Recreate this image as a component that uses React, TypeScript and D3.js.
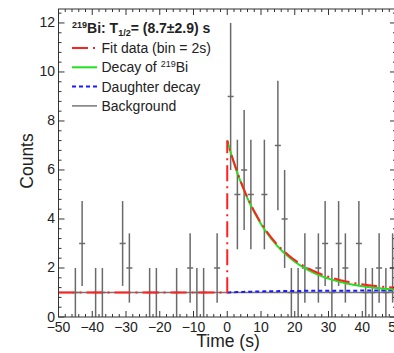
import React from "react";
import * as d3 from "d3";

// Histogram: bins of 2 s from -50 to 50 s
const binLow = -50;
const binWidth = 2;
const counts = [
  0, 0, 1, 3, 0, 1, 1, 0, 0, 3, 2, 0, 0, 1, 1, 0, 0, 1, 0, 2, 1, 1, 0, 2, 0,
  9, 5, 6, 5, 0, 5, 0, 7, 4, 1, 1, 2, 0, 2, 3, 1, 3, 2, 0, 3, 1, 1, 2, 1, 2,
];

// Fit parameters
const background = 1.0;
const amplitude = 6.2;
const halfLife = 8.7;
const daughterLevel = 0.08;

const xTickValues = [-50, -40, -30, -20, -10, 0, 10, 20, 30, 40, 50];
const yTickValues = [0, 2, 4, 6, 8, 10, 12];

const W = 394;
const H = 353;
const FONT = "'Liberation Sans', Arial, Helvetica, sans-serif";

export default function App() {
  const x = d3.scaleLinear().domain([-50, 50]).range([58.5, 396]);
  const y = d3.scaleLinear().domain([0, 12.57]).range([317, 9]);
  const lambda = Math.LN2 / halfLife;

  const decay = (t: number) => amplitude * Math.exp(-lambda * t);
  const daughter = (t: number) => daughterLevel * (1 - Math.exp(-lambda * t));

  const tPos = d3.range(0, 50.001, 0.25);
  const line = d3
    .line<[number, number]>()
    .x((d) => x(d[0]))
    .y((d) => y(d[1]));

  const greenPath = line(tPos.map((t) => [t, background + decay(t)]))!;
  const bluePath = line(tPos.map((t) => [t, background + daughter(t)]))!;
  const redPts: [number, number][] = [
    [-50, background],
    [0, background],
    ...tPos.map((t) => [t, background + decay(t) + daughter(t)] as [number, number]),
  ];
  const redPath = line(redPts)!;
  const bgPath = line([
    [-50, background],
    [50, background],
  ])!;

  const [x0, x1] = x.range();
  const [y0, y1] = y.range();
  const xMinor = d3.range(-50, 50.001, 2);
  const yMinor = d3.range(0, 12.57, 0.4);

  const bins = counts.map((c, i) => ({ t: binLow + binWidth * i + binWidth / 2, c }));

  const axisColor = "#333";
  const errColor = "#6a6a6a";
  const redColor = "#ff2020";
  const greenColor = "#22e022";
  const blueColor = "#1a1aff";

  const legendY = [48, 67.3, 86.6, 105.9];

  return (
    <svg
      width={W}
      height={H}
      style={{ position: "absolute", left: 0, top: 0, background: "#fff" }}
      fontFamily={FONT}
    >
      <rect x={0} y={0} width={W} height={H} fill="#fff" />

      {/* background line */}
      <path d={bgPath} stroke="#777" strokeWidth={1.3} fill="none" />

      {/* error bars */}
      {bins
        .filter((b) => b.c > 0)
        .map((b, i) => {
          const e = Math.sqrt(b.c);
          return (
            <g key={i}>
              <line
                x1={x(b.t)}
                x2={x(b.t)}
                y1={y(Math.max(0, b.c - e))}
                y2={y(b.c + e)}
                stroke={errColor}
                strokeWidth={1.5}
              />
              <line
                x1={x(b.t) - 3}
                x2={x(b.t) + 3}
                y1={y(b.c)}
                y2={y(b.c)}
                stroke={errColor}
                strokeWidth={1.5}
              />
            </g>
          );
        })}

      {/* fit curves */}
      <path d={bluePath} stroke={blueColor} strokeWidth={2} strokeDasharray="4,3" fill="none" />
      <path d={greenPath} stroke={greenColor} strokeWidth={2} fill="none" />
      <path d={redPath} stroke={redColor} strokeWidth={2} strokeDasharray="16,5,2,5" fill="none" />

      {/* frame */}
      <rect x={x0} y={y1} width={x1 - x0} height={y0 - y1} fill="none" stroke={axisColor} strokeWidth={1} />

      {/* x ticks */}
      {xMinor.map((t, i) => {
        const major = xTickValues.includes(Math.round(t));
        const len = major ? 6 : 3;
        return (
          <g key={"xt" + i} stroke={axisColor} strokeWidth={1}>
            <line x1={x(t)} x2={x(t)} y1={y0} y2={y0 - len} />
            <line x1={x(t)} x2={x(t)} y1={y1} y2={y1 + len} />
          </g>
        );
      })}
      {/* y ticks */}
      {yMinor.map((v, i) => {
        const major = Math.abs(v / 2 - Math.round(v / 2)) < 1e-6;
        const len = major ? 6 : 3;
        return (
          <g key={"yt" + i} stroke={axisColor} strokeWidth={1}>
            <line x1={x0} x2={x0 + len} y1={y(v)} y2={y(v)} />
            <line x1={x1} x2={x1 - len} y1={y(v)} y2={y(v)} />
          </g>
        );
      })}

      {/* tick labels */}
      {xTickValues.map((t) => (
        <text key={"xl" + t} x={x(t)} y={331.5} fontSize={14} textAnchor="middle" fill="#222">
          {t < 0 ? "\u2212" + Math.abs(t) : String(t)}
        </text>
      ))}
      {yTickValues.map((v) => (
        <text key={"yl" + v} x={55} y={y(v) + 4.5} fontSize={14} textAnchor="end" fill="#222">
          {v}
        </text>
      ))}

      {/* axis titles */}
      <text x={228} y={346.5} fontSize={17.5} textAnchor="middle" fill="#222">
        Time (s)
      </text>
      <text
        x={0}
        y={0}
        fontSize={17.5}
        textAnchor="middle"
        fill="#222"
        transform="translate(33,161) rotate(-90)"
      >
        Counts
      </text>

      {/* legend */}
      <text x={72} y={32.5} fontSize={14} fontWeight="bold" fill="#222">
        <tspan fontSize={9} dy={-5}>219</tspan>
        <tspan dy={5}>Bi: T</tspan>
        <tspan fontSize={9} dy={3}>1/2</tspan>
        <tspan dy={-3}>= (8.7±2.9) s</tspan>
      </text>

      <line x1={72} x2={97} y1={legendY[0]} y2={legendY[0]} stroke={redColor} strokeWidth={2} strokeDasharray="16,5,2,5" />
      <text x={101.5} y={legendY[0] + 5} fontSize={14} fill="#222">
        Fit data (bin = 2s)
      </text>

      <line x1={72} x2={97} y1={legendY[1]} y2={legendY[1]} stroke={greenColor} strokeWidth={2} />
      <text x={101.5} y={legendY[1] + 5} fontSize={14} fill="#222">
        Decay of <tspan fontSize={9} dy={-5}>219</tspan>
        <tspan dy={5}>Bi</tspan>
      </text>

      <line x1={72} x2={97} y1={legendY[2]} y2={legendY[2]} stroke={blueColor} strokeWidth={2} strokeDasharray="4,3" />
      <text x={101.5} y={legendY[2] + 5} fontSize={14} fill="#222">
        Daughter decay
      </text>

      <line x1={72} x2={97} y1={legendY[3]} y2={legendY[3]} stroke="#777" strokeWidth={1.5} />
      <text x={101.5} y={legendY[3] + 5} fontSize={14} fill="#222">
        Background
      </text>
    </svg>
  );
}
